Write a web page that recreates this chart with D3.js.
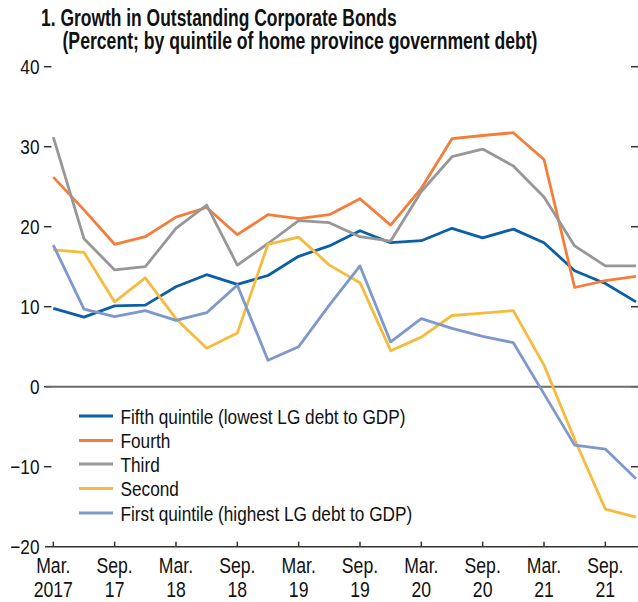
<!DOCTYPE html>
<html>
<head>
<meta charset="utf-8">
<script src="https://cdn.jsdelivr.net/npm/d3@7"></script>
<style>
  html, body { margin: 0; padding: 0; background: #ffffff; }
  svg { display: block; }
</style>
</head>
<body>
<svg id="chart" width="638" height="602"></svg>
<script>
// ---------------- data ----------------
const quarters = ["Mar17","Jun17","Sep17","Dec17","Mar18","Jun18","Sep18","Dec18","Mar19","Jun19",
                  "Sep19","Dec19","Mar20","Jun20","Sep20","Dec20","Mar21","Jun21","Sep21","Dec21"];
const fifth  = [9.8, 8.7, 10.1, 10.2, 12.5, 14.0, 12.8, 13.9, 16.3, 17.6, 19.5, 18.0, 18.25, 19.8, 18.6, 19.7, 18.0, 14.5, 12.9, 10.6];
const fourth = [26.2, 22.1, 17.8, 18.75, 21.2, 22.4, 19.0, 21.5, 21.0, 21.5, 23.5, 20.2, 24.8, 31.0, 31.4, 31.75, 28.4, 12.4, 13.25, 13.8];
const third  = [31.2, 18.5, 14.6, 15.0, 19.8, 22.7, 15.2, 17.9, 20.75, 20.5, 18.75, 18.2, 24.4, 28.75, 29.7, 27.6, 23.7, 17.6, 15.1, 15.1];
const second = [17.1, 16.8, 10.6, 13.6, 8.5, 4.8, 6.7, 17.8, 18.7, 15.2, 13.0, 4.5, 6.2, 8.9, 9.2, 9.5, 2.7, -6.6, -15.3, -16.3];
const first  = [17.7, 9.7, 8.75, 9.5, 8.3, 9.25, 12.7, 3.3, 5.0, 10.2, 15.1, 5.6, 8.5, 7.3, 6.3, 5.5, -0.9, -7.3, -7.8, -11.5];

const seriesNames = ["Fifth quintile (lowest LG debt to GDP)", "Fourth", "Third", "Second", "First quintile (highest LG debt to GDP)"];
const seriesValues = [fifth, fourth, third, second, first];
const seriesColors = ["#0b5fa5", "#f47d3b", "#979797", "#f6bb3e", "#7f98cc"];

const yTicks = [40, 30, 20, 10, 0, -10, -20];
const xTickQuarters = ["Mar17","Sep17","Mar18","Sep18","Mar19","Sep19","Mar20","Sep20","Mar21","Sep21"];
const xTickLine1 = ["Mar.","Sep.","Mar.","Sep.","Mar.","Sep.","Mar.","Sep.","Mar.","Sep."];
const xTickLine2 = ["2017","17","18","18","19","19","20","20","21","21"];

const titleLine1 = "1. Growth in Outstanding Corporate Bonds";
const titleLine2 = "(Percent; by quintile of home province government debt)";

// ---------------- setup ----------------
const svg = d3.select("#chart");

// font detection: prefer a real narrow font, else compress Liberation Sans
function measure(family, weight) {
  const t = svg.append("text").attr("font-family", family).attr("font-size", 20)
    .attr("font-weight", weight || "normal").text("Fifth quintile (lowest LG debt to GDP)");
  const w = t.node().getComputedTextLength();
  t.remove();
  return w;
}
const wNarrow = measure("'Liberation Sans Narrow'");
const wWide = measure("'Liberation Sans'");
let FONT, SX;
if (wNarrow / wWide < 0.9) { FONT = "'Liberation Sans Narrow', 'Liberation Sans', Arial, sans-serif"; SX = 1; }
else { FONT = "'Liberation Sans', Arial, sans-serif"; SX = 0.82; }

function addText(parent, x, y, str, o) {
  o = o || {};
  const sx = SX * (o.sxMul || 1);
  return parent.append("text")
    .attr("transform", `translate(${x},${y}) scale(${sx},1)`)
    .attr("font-family", FONT)
    .attr("font-size", o.size || 20)
    .attr("font-weight", o.weight || "normal")
    .attr("text-anchor", o.anchor || "start")
    .attr("fill", o.fill || "#111")
    .text(str);
}

const x = d3.scalePoint().domain(quarters).range([53.3, 636]);
const y = d3.scaleLinear().domain([-20, 40]).range([546.7, 66.7]);

// ---------------- title ----------------
addText(svg, 41, 26, titleLine1, { size: 23, weight: "bold", sxMul: 0.925 });
addText(svg, 62.5, 48.5, titleLine2, { size: 23, weight: "bold", sxMul: 0.935 });

// ---------------- y axis ticks (left & right) ----------------
const yAxisG = svg.append("g");
yTicks.forEach(v => {
  const yy = y(v);
  if (v !== -20) {
    yAxisG.append("line").attr("x1", 44).attr("x2", 51.5).attr("y1", yy).attr("y2", yy)
      .attr("stroke", "#333").attr("stroke-width", 1.5);
    yAxisG.append("line").attr("x1", 631).attr("x2", 638).attr("y1", yy).attr("y2", yy)
      .attr("stroke", "#333").attr("stroke-width", 1.5);
  }
  addText(yAxisG, 39.5, yy + 7.5, v < 0 ? "\u2212" + Math.abs(v) : String(v), { size: 21, anchor: "end" });
});

// zero line
svg.append("line").attr("x1", 46).attr("x2", 638).attr("y1", y(0)).attr("y2", y(0))
  .attr("stroke", "#6a6a6a").attr("stroke-width", 2);

// ---------------- x axis ----------------
const xAxisG = svg.append("g");
xAxisG.append("line").attr("x1", 45).attr("x2", 638).attr("y1", y(-20)).attr("y2", y(-20))
  .attr("stroke", "#333").attr("stroke-width", 1.5);
xTickQuarters.forEach((q, i) => {
  const xx = x(q);
  xAxisG.append("line").attr("x1", xx).attr("x2", xx).attr("y1", y(-20)).attr("y2", y(-20) - 5)
    .attr("stroke", "#333").attr("stroke-width", 1.5);
  addText(xAxisG, xx, 573, xTickLine1[i], { size: 21.5, anchor: "middle" });
  addText(xAxisG, xx, 597, xTickLine2[i], { size: 21.5, anchor: "middle" });
});

// ---------------- lines ----------------
const line = d3.line().x((d, i) => x(quarters[i])).y(d => y(d));
const linesG = svg.append("g");
seriesValues.forEach((vals, k) => {
  linesG.append("path").datum(vals)
    .attr("d", line)
    .attr("fill", "none")
    .attr("stroke", seriesColors[k])
    .attr("stroke-width", 2.8)
    .attr("stroke-linejoin", "round");
});

// ---------------- legend ----------------
const legendRows = [416, 440.5, 464, 488.5, 513];
const legG = svg.append("g");
seriesNames.forEach((name, k) => {
  const yy = legendRows[k];
  legG.append("line").attr("x1", 79).attr("x2", 113).attr("y1", yy).attr("y2", yy)
    .attr("stroke", seriesColors[k]).attr("stroke-width", 2.8);
  addText(legG, 120.5, yy + 7.5, name, { size: 21 });
});
</script>
</body>
</html>
